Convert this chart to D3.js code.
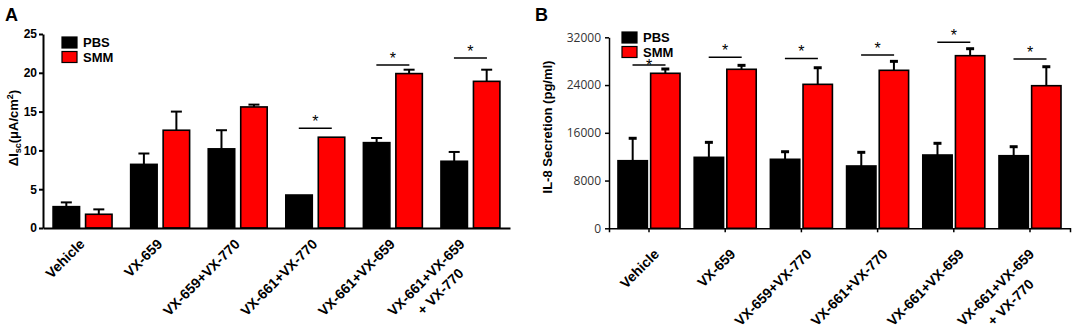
<!DOCTYPE html>
<html><head><meta charset="utf-8">
<script src="https://cdn.jsdelivr.net/npm/d3@7"></script>
<style>
body{margin:0;background:#fff}
svg{display:block}
text{font-family:"Liberation Sans",Arial,sans-serif}
</style>
</head><body>
<svg id="c" width="1072" height="335"></svg>
<script>
// ---------- data ----------
const categories = ["Vehicle","VX-659","VX-659+VX-770","VX-661+VX-770","VX-661+VX-659","VX-661+VX-659\n+ VX-770"];
const series = ["PBS","SMM"];
const seriesColors = ["#000000","#ff0000"];

// Panel A : ΔIsc (µA/cm²)
const aPBS    = [2.75, 8.2, 10.2, 4.25, 11.0, 8.6];
const aPBSerr = [0.55, 1.4, 2.4, 0, 0.6, 1.2];
const aSMM    = [1.77, 12.6, 15.6, 11.7, 19.9, 18.9];
const aSMMerr = [0.63, 2.4, 0.3, 0, 0.5, 1.5];
const aTicks  = [0, 5, 10, 15, 20, 25];
const aSigGroups = [3, 4, 5];
const aSigLine   = [12.85, 21.0, 21.9];
const aSigStar   = [14.2, 22.3, 23.2];

// Panel B : IL-8 secretion (pg/ml)
const bPBS    = [11325, 11890, 11560, 10440, 12280, 12160];
const bPBSerr = [3755, 2510, 1270, 2290, 1960, 1510];
const bSMM    = [25970, 26640, 24120, 26470, 28920, 23890];
const bSMMerr = [720, 660, 2780, 1500, 1170, 3180];
const bTicks  = [0, 8000, 16000, 24000, 32000];
const bSigGroups = [0, 1, 2, 3, 4, 5];
const bSigLine   = [27360, 28650, 28450, 29030, 31160, 28360];
const bSigStar   = [27860, 30370, 30200, 30710, 32890, 30040];

// ---------- drawing ----------
const svg = d3.select("#c");

function panel(cfg) {
  const g = svg.append("g");
  const x0 = d3.scaleBand().domain(categories).range(cfg.xr).paddingInner(cfg.pi).paddingOuter(cfg.po);
  const x1 = d3.scaleBand().domain(series).range([0, x0.bandwidth()]).paddingInner(cfg.pi2);
  const y = d3.scaleLinear().domain(cfg.ydom).range(cfg.yr);
  const col = d3.scaleOrdinal().domain(series).range(seriesColors);

  const rows = categories.map((c, i) => ({c, i, vals: [
    {s: "PBS", v: cfg.pbs[i], e: cfg.pbsErr[i]},
    {s: "SMM", v: cfg.smm[i], e: cfg.smmErr[i]}
  ]}));

  // error bars (drawn first so bars overlay stem base)
  const eg = g.append("g");
  rows.forEach(r => r.vals.forEach(d => {
    if (!d.e) return;
    const cx = x0(r.c) + x1(d.s) + x1.bandwidth() / 2;
    eg.append("line").attr("x1", cx).attr("x2", cx)
      .attr("y1", y(d.v)).attr("y2", y(d.v + d.e))
      .attr("stroke", "#000").attr("stroke-width", cfg.errW);
    eg.append("line").attr("x1", cx - cfg.cap / 2).attr("x2", cx + cfg.cap / 2)
      .attr("y1", y(d.v + d.e)).attr("y2", y(d.v + d.e))
      .attr("stroke", "#000").attr("stroke-width", cfg.capW);
  }));

  // bars
  const grp = g.append("g").selectAll("g").data(rows).join("g")
    .attr("transform", r => `translate(${x0(r.c)},0)`);
  grp.selectAll("rect").data(r => r.vals).join("rect")
    .attr("x", d => x1(d.s))
    .attr("y", d => y(d.v))
    .attr("width", x1.bandwidth())
    .attr("height", d => y(0) - y(d.v))
    .attr("fill", d => col(d.s))
    .attr("stroke", "#000").attr("stroke-width", 1.6);

  // y axis
  const ya = g.append("g").attr("transform", `translate(${cfg.xr[0]},0)`)
    .call(d3.axisLeft(y).tickValues(cfg.ticks).tickSize(4).tickSizeOuter(0).tickPadding(cfg.tickPad).tickFormat(d3.format("d")));
  ya.select(".domain").attr("stroke", "#000").attr("stroke-width", cfg.axW);
  ya.selectAll(".tick line").attr("stroke", "#000").attr("stroke-width", cfg.axW);
  ya.selectAll(".tick text").attr("font-size", 12).attr("font-weight", cfg.tickBold ? "bold" : "normal")
    .attr("fill", cfg.tickColor).style("font-family", cfg.tickFont);

  // x axis
  const xa = g.append("g").attr("transform", `translate(0,${y(0)})`)
    .call(d3.axisBottom(x0).tickSize(cfg.xTick).tickSizeOuter(cfg.xTick).tickFormat(""));
  xa.select(".domain").attr("stroke", "#000").attr("stroke-width", cfg.axW);
  xa.selectAll(".tick line").attr("stroke", "#000").attr("stroke-width", cfg.axW);

  // category labels, rotated -45°
  categories.forEach(c => {
    const lines = c.split("\n");
    const multi = lines.length > 1;
    const lg = g.append("g")
      .attr("transform", `translate(${x0(c) + x0.bandwidth() / 2 + cfg.lblDx + (multi ? cfg.multiDx : 0)},${cfg.lblY}) rotate(-45)`);
    const t0 = lg.append("text").text(lines[0]).attr("text-anchor", "end")
      .attr("font-size", 14).attr("font-weight", "bold").attr("fill", "#000");
    if (multi) {
      const w0 = t0.node().getComputedTextLength();
      lines.slice(1).forEach((ln, k) => {
        lg.append("text").text(ln).attr("text-anchor", "middle")
          .attr("x", -w0 / 2).attr("y", (k + 1) * cfg.lineH)
          .attr("font-size", 14).attr("font-weight", "bold").attr("fill", "#000");
      });
    }
  });

  // significance
  cfg.sigG.forEach((gi, k) => {
    const cx = x0(categories[gi]) + x0.bandwidth() / 2;
    g.append("line").attr("x1", cx - 16.5).attr("x2", cx + 16.5)
      .attr("y1", y(cfg.sigL[k])).attr("y2", y(cfg.sigL[k]))
      .attr("stroke", "#000").attr("stroke-width", 1.6);
    g.append("text").text("*").attr("x", cx).attr("y", y(cfg.sigS[k]) + 9)
      .attr("text-anchor", "middle").attr("font-size", 16).attr("fill", "#000");
  });

  // legend
  series.forEach((s, k) => {
    g.append("rect").attr("x", cfg.leg[0]).attr("y", cfg.leg[1] + k * 14.5)
      .attr("width", 15).attr("height", 11).attr("fill", col(s)).attr("stroke", "#000").attr("stroke-width", 1.2);
    g.append("text").text(s).attr("x", cfg.leg[0] + 21).attr("y", cfg.leg[1] + 10 + k * 14.5)
      .attr("font-size", 13).attr("font-weight", "bold").attr("fill", "#000");
  });

  // panel letter
  g.append("text").text(cfg.letter).attr("x", cfg.letterX).attr("y", 21)
    .attr("font-size", 18).attr("font-weight", "bold").attr("fill", "#000");

  // y title
  const yt = g.append("text").attr("transform", `translate(${cfg.titleX},${cfg.titleY}) rotate(-90)`)
    .attr("text-anchor", "middle").attr("font-size", 13).attr("font-weight", "bold").attr("fill", "#000");
  cfg.title(yt);
}

panel({
  xr: [43, 510], pi: 0.24, po: 0.13, pi2: 0.185,
  ydom: [0, 25], yr: [228, 34],
  pbs: aPBS, pbsErr: aPBSerr, smm: aSMM, smmErr: aSMMerr,
  ticks: aTicks, tickPad: 2, tickBold: true, tickColor: "#000", tickFont: "Liberation Sans, Arial, sans-serif",
  axW: 2, xTick: 0, errW: 2, cap: 11, capW: 2,
  lblDx: 3, lblY: 245, multiDx: -8, lineH: 20,
  sigG: aSigGroups, sigL: aSigLine, sigS: aSigStar,
  leg: [62, 37], letter: "A", letterX: 5,
  titleX: 18, titleY: 128,
  title: t => {
    t.append("tspan").text("ΔI");
    t.append("tspan").text("sc").attr("font-size", 9).attr("dy", 3);
    t.append("tspan").text("(μA/cm").attr("dy", -3);
    t.append("tspan").text("2").attr("font-size", 9).attr("dy", -5);
    t.append("tspan").text(")").attr("dy", 5);
  }
});

panel({
  xr: [609, 1070], pi: 0.186, po: 0.118, pi2: 0.1,
  ydom: [0, 32000], yr: [228.3, 37.3],
  pbs: bPBS, pbsErr: bPBSerr, smm: bSMM, smmErr: bSMMerr,
  ticks: bTicks, tickPad: 4, tickBold: false, tickColor: "#333", tickFont: "Open Sans, sans-serif",
  axW: 1.5, xTick: 4, errW: 2, cap: 8, capW: 3,
  lblDx: 11, lblY: 255, multiDx: -6, lineH: 21,
  sigG: bSigGroups, sigL: bSigLine, sigS: bSigStar,
  leg: [622, 32], letter: "B", letterX: 535,
  titleX: 552, titleY: 127,
  title: t => { t.text("IL-8 Secretion (pg/ml)"); }
});
</script>
</body></html>
